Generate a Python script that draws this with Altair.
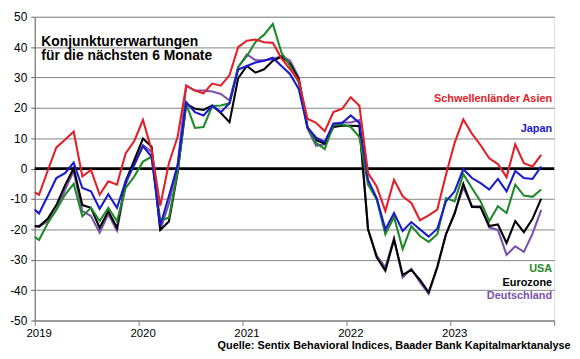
import altair as alt
import pandas as pd

# ---------------- data ----------------
years = [2019, 2020, 2021, 2022, 2023]
months = [f"{y}-{m:02d}" for y in years for m in range(1, 13)][:59]  # Jan 2019 .. Nov 2023

series_names = ["Deutschland", "Eurozone", "USA", "Japan", "Schwellenländer Asien"]
series_colors = ["#7a52ad", "#000000", "#1f8a2a", "#1a1acc", "#e3202a"]

# value at left edge of the axis (start of January 2019)
start_values = [-19.0, -18.9, -22.5, -13.5, -7.8]

asien = [
    -8.6, -0.7, 7.0, 9.5, 12.2, -2.6, -0.4, -8.6, -4.2, -5.3, 5.0, 9.1,
    16.0, 6.1, -12.2, 1.8, 10.4, 27.3, 25.7, 24.8, 28.0, 27.3, 30.8, 40.0,
    42.1, 42.5, 41.6, 41.4, 36.3, 32.7, 29.0, 16.4, 15.1, 12.3, 18.6, 19.7,
    23.5, 20.7, -1.5, -5.9, -14.0, -3.7, -9.1, -11.3, -17.0, -15.4, -13.5, -2.0,
    8.5, 16.2, 11.5, 7.7, 3.4, 1.5, -2.8, 8.0, 1.8, 0.7, 4.5,
]
japan = [
    -14.8, -9.0, -3.1, -1.5, 2.0, -6.4, -7.5, -13.2, -8.4, -12.9, -4.2, 1.2,
    7.4, 3.9, -18.7, -9.0, 1.0, 21.9, 18.6, 17.5, 20.7, 18.6, 21.5, 32.6,
    33.8, 34.9, 35.5, 36.5, 33.8, 31.1, 26.2, 13.6, 10.2, 8.8, 14.8, 15.0,
    17.5, 15.0, -3.7, -9.7, -20.0, -14.6, -20.5, -17.6, -20.0, -22.4, -19.8, -10.8,
    -7.5, -0.2, -3.1, -4.8, -6.9, -3.4, -7.5, -0.8, -3.1, -3.4, 0.7,
]
usa = [
    -23.5, -18.0, -13.5, -8.6, -5.0, -15.7, -12.9, -17.3, -12.9, -17.3, -6.4, -2.6,
    2.3, 3.9, -17.0, -16.2, -1.0, 21.3, 13.4, 13.7, 20.6, 20.8, 21.5, 33.5,
    37.0, 41.7, 44.1, 47.6, 38.2, 33.8, 28.3, 13.7, 8.5, 6.4, 14.3, 14.6,
    13.7, 10.4, -5.3, -10.2, -21.6, -15.9, -26.5, -18.9, -22.2, -24.1, -21.6, -9.7,
    -10.8, -1.8, -6.4, -10.8, -17.3, -12.4, -14.6, -5.3, -8.9, -9.3, -6.9,
]
eurozone = [
    -19.0, -16.5, -12.0, -5.5, 0.1, -12.0, -12.9, -19.5, -14.0, -19.5, -4.2, 2.8,
    9.9, 7.2, -20.2, -17.4, -1.5, 21.3, 19.7, 19.3, 20.8, 18.3, 15.3, 29.8,
    33.8, 31.6, 32.7, 35.5, 36.8, 34.5, 29.5, 13.7, 9.4, 8.2, 13.7, 14.1,
    14.1, 14.0, -20.0, -29.2, -33.6, -23.3, -35.0, -33.3, -36.6, -40.7, -32.3, -21.6,
    -14.8, -5.0, -12.6, -12.7, -18.9, -18.4, -24.5, -17.3, -20.9, -16.5, -9.9,
]
deutschland = [
    -19.2, -17.3, -13.5, -7.0, -0.8, -14.0, -15.6, -21.1, -15.0, -20.4, -5.3, 1.8,
    7.7, 5.5, -20.2, -11.5, 1.0, 27.3, 25.7, 25.7, 25.4, 24.6, 22.4, 33.3,
    37.6, 35.7, 35.7, 36.0, 37.1, 35.5, 30.0, 13.2, 7.5, 8.0, 14.8, 15.2,
    15.2, 16.0, -20.0, -28.6, -32.5, -23.0, -35.8, -33.0, -37.4, -41.2, -32.6, -21.6,
    -14.6, -6.2, -12.3, -12.4, -19.4, -20.2, -28.4, -25.6, -27.4, -21.4, -13.6,
]
series_values = [deutschland, eurozone, usa, japan, asien]

y_ticks = [-50, -40, -30, -20, -10, 0, 10, 20, 30, 40, 50]
x_ticks = [2019, 2020, 2021, 2022, 2023, 2024]

FONT = "Liberation Sans"

# ---------------- build ----------------
def month_pos(m):
    y, mo = m.split("-")
    return int(y) + (int(mo) - 0.5) / 12.0

x_scale = alt.Scale(domain=[2019, 2024], nice=False, zero=False)
y_scale = alt.Scale(domain=[-50, 50], nice=False, zero=False)

x_axis = alt.Axis(
    values=x_ticks, tickCount=6, grid=False, title=None, tickSize=5, tickColor="#808080",
    domainColor="#808080", labelExpr="datum.value < 2024 ? '' + datum.value : ''",
    labelOffset=4, labelPadding=2, labelFontSize=11.5, labelFlush=False, labelOverlap=False,
)
y_axis = alt.Axis(
    values=y_ticks, tickCount=11, grid=True, gridColor="#858585", gridWidth=1, title=None,
    tickSize=4, tickColor="#606060", domainColor="#606060",
    labelExpr="'' + datum.value", labelPadding=4, labelFontSize=12,
    labelFlush=False, labelOverlap=False,
)


def X(field):
    return alt.X(field, scale=x_scale, axis=x_axis)


def Y(field):
    return alt.Y(field, scale=y_scale, axis=y_axis)


layers = []

# axes + grid carrier
layers.append(
    alt.Chart(pd.DataFrame({"x": [2019.0], "y": [0.0]})).mark_point(opacity=0).encode(
        x=X("x:Q"), y=Y("y:Q")
    )
)

# zero line
layers.append(
    alt.Chart(pd.DataFrame({"y": [0.0]})).mark_rule(color="black", strokeWidth=2.6).encode(
        y=Y("y:Q")
    )
)

for name, color, start, vals in zip(series_names, series_colors, start_values, series_values):
    xs = [2019.0] + [month_pos(m) for m in months]
    vs = [start] + list(vals)
    df = pd.DataFrame({"x": xs, "v": vs, "s": name})
    layers.append(
        alt.Chart(df).mark_line(color=color, strokeWidth=2.1, strokeJoin="miter").encode(
            x=X("x:Q"), y=Y("v:Q"), order="x:Q",
        )
    )

# title inside the plot
title_lines = ["Konjunkturerwartungen", "für die nächsten 6 Monate"]
title_y = [40.5, 35.6]
layers.append(
    alt.Chart(pd.DataFrame({"t": title_lines, "x": [2019.064, 2019.064], "y": title_y}))
    .mark_text(align="left", baseline="alphabetic", font=FONT, fontSize=14, fontWeight="bold", color="black")
    .encode(x=X("x:Q"), y=Y("y:Q"), text="t:N")
)

# series labels
label_text = ["Schwellenländer Asien", "Japan", "USA", "Eurozone", "Deutschland"]
label_color = ["#e3202a", "#1a1acc", "#1f8a2a", "#000000", "#7a52ad"]
label_y = [22.8, 12.95, -33.05, -37.6, -42.1]
lab_df = pd.DataFrame({"t": label_text, "c": label_color, "y": label_y, "x": [2023.98] * 5})
layers.append(
    alt.Chart(lab_df)
    .mark_text(align="right", baseline="middle", font=FONT, fontSize=11, fontWeight="bold")
    .encode(x=X("x:Q"), y=Y("y:Q"), text="t:N", color=alt.Color("c:N", scale=None))
)

# source line
layers.append(
    alt.Chart(pd.DataFrame({"t": ["Quelle: Sentix Behavioral Indices, Baader Bank Kapitalmarktanalyse"],
                            "x": [2024.158], "y": [-59.4]}))
    .mark_text(align="right", baseline="alphabetic", font=FONT, fontSize=11, fontWeight="bold", color="black")
    .encode(x=X("x:Q"), y=Y("y:Q"), text="t:N")
)

chart = (
    alt.layer(*layers)
    .properties(width=525, height=307,
                padding={"left": 27, "top": 7, "right": 18, "bottom": 29},
                autosize=alt.AutoSizeParams(type="none"))
    .configure_view(stroke="#808080", strokeWidth=1)
    .configure_axis(labelFont=FONT, labelFontWeight="bold", labelColor="black")
    .configure(background="white")
)

chart.save("out.html", embed_options={"renderer": "svg", "actions": False})
